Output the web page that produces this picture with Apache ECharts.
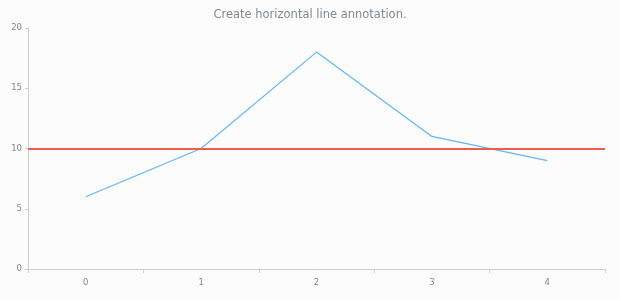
<!DOCTYPE html>
<html><head><meta charset="utf-8">
<script src="https://cdn.jsdelivr.net/npm/echarts@6/dist/echarts.min.js"></script>
<style>html,body{margin:0;padding:0;background:#fcfcfc;}#c{width:620px;height:300px;}</style>
</head><body><div id="c"></div>
<script>
const categories = ['0','1','2','3','4'];
const values = [6, 10, 18, 11, 9];
const annotationValue = 10;
const titleText = 'Create horizontal line annotation.';
const chart = echarts.init(document.getElementById('c'));
chart.setOption({
  animation: false,
  backgroundColor: '#fcfcfc',
  title: {text: titleText, left: 'center', top: 4,
    textStyle: {fontFamily: 'DejaVu Sans', fontSize: 11.5, fontWeight: 'normal', color: '#80898f'}},
  grid: {left: 28, right: 15, top: 28, bottom: 31},
  xAxis: {type: 'category', data: categories, boundaryGap: true,
    axisLine: {lineStyle: {color: '#cecece'}},
    axisTick: {show: true, length: 4, lineStyle: {color: '#cecece'}},
    axisLabel: {fontFamily: 'DejaVu Sans', fontSize: 8.5, color: '#7c868e', margin: 9}},
  yAxis: {type: 'value', min: 0, max: 20, interval: 5,
    axisLine: {show: true, lineStyle: {color: '#cecece'}},
    axisTick: {show: true, length: 3, lineStyle: {color: '#cecece'}},
    splitLine: {show: false},
    axisLabel: {fontFamily: 'DejaVu Sans', fontSize: 8.5, color: '#7c868e', margin: 6}},
  series: [{type: 'line', data: values, symbol: 'none',
    lineStyle: {color: '#64b5f6', width: 1.2},
    markLine: {silent: true, symbol: 'none', label: {show: false},
      lineStyle: {color: '#f05c4a', width: 2, type: 'solid'},
      data: [{yAxis: annotationValue}]}}]
});
</script></body></html>
